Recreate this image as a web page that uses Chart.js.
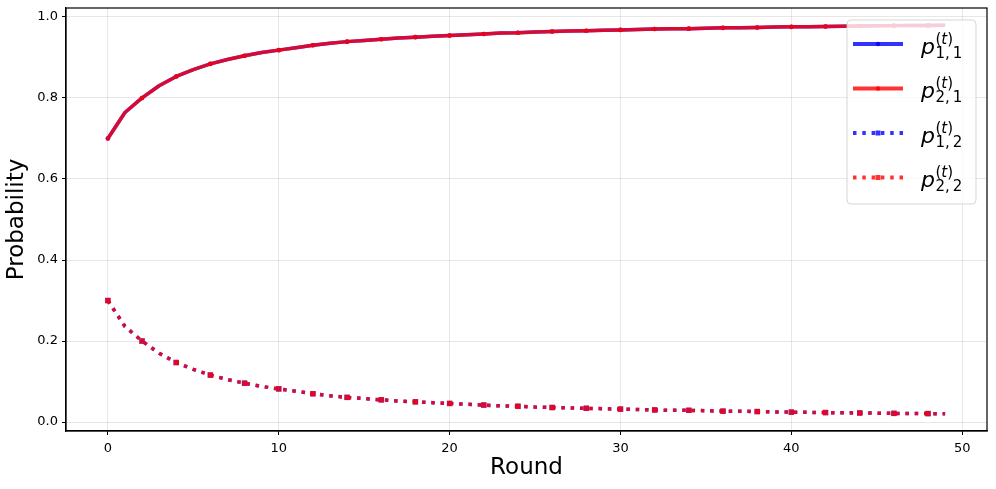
<!DOCTYPE html>
<html>
<head>
<meta charset="utf-8">
<script src="https://cdn.jsdelivr.net/npm/chart.js@4.4.0/dist/chart.umd.min.js"></script>
<style>
  html, body { margin: 0; padding: 0; background: #fff; }
  #wrap { width: 996px; height: 489px; }
</style>
</head>
<body>
<div id="wrap"><canvas id="chart" width="996" height="489"></canvas></div>
<script>
// values
var rounds = [0, 1, 2, 3, 4, 5, 6, 7, 8, 9,
    10, 11, 12, 13, 14, 15, 16, 17, 18, 19,
    20, 21, 22, 23, 24, 25, 26, 27, 28, 29,
    30, 31, 32, 33, 34, 35, 36, 37, 38, 39,
    40, 41, 42, 43, 44, 45, 46, 47, 48, 49];

var p11 = [0.700, 0.764, 0.800, 0.830, 0.853, 0.870, 0.884, 0.895, 0.904, 0.912,
    0.918, 0.924, 0.930, 0.935, 0.939, 0.942, 0.945, 0.948, 0.950, 0.952,
    0.954, 0.956, 0.958, 0.960, 0.961, 0.963, 0.964, 0.965, 0.966, 0.967,
    0.968, 0.969, 0.970, 0.971, 0.971, 0.972, 0.973, 0.973, 0.974, 0.975,
    0.9755, 0.976, 0.9765, 0.977, 0.9775, 0.978, 0.9785, 0.979, 0.979, 0.9795];

var p21 = [0.700, 0.764, 0.800, 0.830, 0.853, 0.870, 0.884, 0.895, 0.904, 0.912,
    0.918, 0.924, 0.930, 0.935, 0.939, 0.942, 0.945, 0.948, 0.950, 0.952,
    0.954, 0.956, 0.958, 0.960, 0.961, 0.963, 0.964, 0.965, 0.966, 0.967,
    0.968, 0.969, 0.970, 0.971, 0.971, 0.972, 0.973, 0.973, 0.974, 0.975,
    0.9755, 0.976, 0.9765, 0.977, 0.9775, 0.978, 0.9785, 0.979, 0.979, 0.9795];

var p12 = [0.300, 0.236, 0.200, 0.170, 0.147, 0.130, 0.116, 0.105, 0.096, 0.088,
    0.082, 0.076, 0.070, 0.065, 0.061, 0.058, 0.055, 0.052, 0.050, 0.048,
    0.046, 0.044, 0.042, 0.040, 0.039, 0.037, 0.036, 0.035, 0.034, 0.033,
    0.032, 0.031, 0.030, 0.029, 0.029, 0.028, 0.027, 0.027, 0.026, 0.025,
    0.0245, 0.024, 0.0235, 0.023, 0.0225, 0.022, 0.0215, 0.021, 0.021, 0.0205];

var p22 = [0.300, 0.236, 0.200, 0.170, 0.147, 0.130, 0.116, 0.105, 0.096, 0.088,
    0.082, 0.076, 0.070, 0.065, 0.061, 0.058, 0.055, 0.052, 0.050, 0.048,
    0.046, 0.044, 0.042, 0.040, 0.039, 0.037, 0.036, 0.035, 0.034, 0.033,
    0.032, 0.031, 0.030, 0.029, 0.029, 0.028, 0.027, 0.027, 0.026, 0.025,
    0.0245, 0.024, 0.0235, 0.023, 0.0225, 0.022, 0.0215, 0.021, 0.021, 0.0205];

var xTicks = [0, 10, 20, 30, 40, 50];
var yTicks = [0.0, 0.2, 0.4, 0.6, 0.8, 1.0];

var BLUE = 'rgba(0, 0, 255, 0.8)';
var RED = 'rgba(255, 0, 0, 0.8)';
var FONT = "'DejaVu Sans', sans-serif";

function toPoints(ys) {
    return rounds.map(function (r, i) { return { x: r, y: ys[i] }; });
}

// marker on every second round
function everyOther(r) {
    return function (c) { return c.dataIndex % 2 === 0 ? r : 0; };
}

var legendItems = [
    { color: BLUE, dotted: false, sub: '1,\u20091' },
    { color: RED, dotted: false, sub: '2,\u20091' },
    { color: BLUE, dotted: true, sub: '1,\u20092' },
    { color: RED, dotted: true, sub: '2,\u20092' }
];

var framePlugin = {
    id: 'frameAndLegend',
    afterDraw: function (chart) {
        var ctx = chart.ctx;
        var a = chart.chartArea;

        // all four spines
        ctx.save();
        ctx.strokeStyle = '#000';
        ctx.lineWidth = 1.2;
        ctx.strokeRect(a.left, a.top, a.right - a.left, a.bottom - a.top);
        ctx.restore();

        // legend box
        var bx = a.right - 140, by = a.top + 12, bw = 129, bh = 184, rad = 4;
        ctx.save();
        ctx.beginPath();
        ctx.moveTo(bx + rad, by);
        ctx.arcTo(bx + bw, by, bx + bw, by + bh, rad);
        ctx.arcTo(bx + bw, by + bh, bx, by + bh, rad);
        ctx.arcTo(bx, by + bh, bx, by, rad);
        ctx.arcTo(bx, by, bx + bw, by, rad);
        ctx.closePath();
        ctx.fillStyle = 'rgba(255, 255, 255, 0.8)';
        ctx.fill();
        ctx.strokeStyle = 'rgba(204, 204, 204, 0.8)';
        ctx.lineWidth = 1;
        ctx.stroke();

        legendItems.forEach(function (it, i) {
            var yc = by + 24 + i * 44.5;
            var x0 = bx + 6, x1 = bx + 56, xm = (x0 + x1) / 2;
            ctx.strokeStyle = it.color;
            ctx.fillStyle = it.color;
            ctx.lineWidth = 3.8;
            ctx.lineCap = 'butt';
            ctx.setLineDash(it.dotted ? [3.5, 5.8] : []);
            ctx.beginPath();
            ctx.moveTo(x0, yc);
            ctx.lineTo(x1, yc);
            ctx.stroke();
            ctx.setLineDash([]);
            if (it.dotted) {
                ctx.fillRect(xm - 2.5, yc - 2.5, 5, 5);
            } else {
                ctx.beginPath();
                ctx.arc(xm, yc, 2.3, 0, Math.PI * 2);
                ctx.fill();
            }

            // label p_{a,b}^{(t)}
            var tx = bx + 74, base = yc + 9.7;
            ctx.fillStyle = '#000';
            ctx.textBaseline = 'alphabetic';
            ctx.textAlign = 'left';
            ctx.font = 'italic 22px ' + FONT;
            ctx.fillText('p', tx, base);
            var sx = tx + ctx.measureText('p').width + 0.5;
            ctx.font = '15px ' + FONT;
            ctx.fillText('(', sx, base - 10);
            var w1 = ctx.measureText('(').width;
            ctx.font = 'italic 15px ' + FONT;
            ctx.fillText('t', sx + w1, base - 10);
            var w2 = ctx.measureText('t').width;
            ctx.font = '15px ' + FONT;
            ctx.fillText(')', sx + w1 + w2, base - 10);
            ctx.fillText(it.sub, sx, base + 4);
        });
        ctx.restore();
    }
};

var gridOpts = {
    color: 'rgba(176, 176, 176, 0.3)',
    lineWidth: 1,
    drawTicks: true,
    tickLength: 4,
    tickColor: '#000',
    tickWidth: 1
};

new Chart(document.getElementById('chart').getContext('2d'), {
    type: 'line',
    data: {
        datasets: [{
            label: 'p11',
            data: toPoints(p11),
            borderColor: BLUE,
            backgroundColor: BLUE,
            borderWidth: 3.5,
            pointStyle: 'circle',
            pointRadius: everyOther(2.3),
            pointBorderWidth: 0,
            order: 4
        }, {
            label: 'p21',
            data: toPoints(p21),
            borderColor: RED,
            backgroundColor: RED,
            borderWidth: 3.5,
            pointStyle: 'circle',
            pointRadius: everyOther(2.3),
            pointBorderWidth: 0,
            order: 3
        }, {
            label: 'p12',
            data: toPoints(p12),
            borderColor: BLUE,
            backgroundColor: BLUE,
            borderWidth: 3.5,
            borderDash: [3.5, 5.8],
            pointStyle: 'rect',
            pointRadius: everyOther(3.8),
            pointBorderWidth: 0,
            order: 2
        }, {
            label: 'p22',
            data: toPoints(p22),
            borderColor: RED,
            backgroundColor: RED,
            borderWidth: 3.5,
            borderDash: [3.5, 5.8],
            pointStyle: 'rect',
            pointRadius: everyOther(3.8),
            pointBorderWidth: 0,
            order: 1
        }]
    },
    options: {
        responsive: false,
        animation: false,
        devicePixelRatio: 1,
        events: [],
        layout: { padding: { top: 8, right: 9, left: 0, bottom: 0 } },
        elements: { line: { tension: 0, fill: false, borderJoinStyle: 'round' } },
        plugins: { legend: { display: false }, tooltip: { enabled: false } },
        scales: {
            x: {
                type: 'linear',
                min: -2.45,
                max: 51.45,
                afterBuildTicks: function (s) { s.ticks = xTicks.map(function (v) { return { value: v }; }); },
                afterFit: function (s) { s.height = 58; s.paddingLeft = 0; s.paddingRight = 0; },
                grid: gridOpts,
                border: { display: true, color: '#000', width: 1.2 },
                ticks: {
                    color: '#000',
                    font: { family: FONT, size: 13 },
                    padding: 6,
                    maxRotation: 0,
                    callback: function (v) { return String(v); }
                },
                title: {
                    display: true,
                    text: 'Round',
                    color: '#000',
                    font: { family: FONT, size: 23 },
                    padding: { top: 0, bottom: 7 }
                }
            },
            y: {
                min: -0.022,
                max: 1.022,
                afterBuildTicks: function (s) { s.ticks = yTicks.map(function (v) { return { value: v }; }); },
                afterFit: function (s) { s.width = 66; s.paddingTop = 0; s.paddingBottom = 0; },
                grid: gridOpts,
                border: { display: true, color: '#000', width: 1.2 },
                ticks: {
                    color: '#000',
                    font: { family: FONT, size: 13 },
                    padding: 4,
                    callback: function (v) { return v.toFixed(1); }
                },
                title: {
                    display: true,
                    text: 'Probability',
                    color: '#000',
                    font: { family: FONT, size: 23 },
                    padding: { top: 3, bottom: 0 }
                }
            }
        }
    },
    plugins: [framePlugin]
});
</script>
</body>
</html>
